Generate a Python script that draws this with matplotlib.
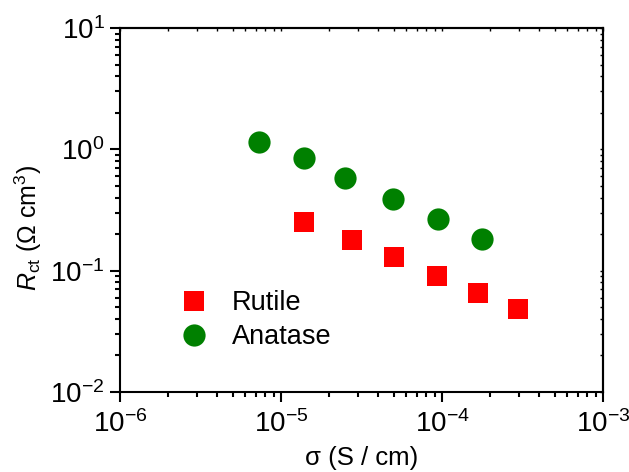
import matplotlib
matplotlib.use("Agg")
import matplotlib.pyplot as plt
from matplotlib.ticker import LogLocator, NullFormatter

plt.rcParams['font.family'] = ['Liberation Sans', 'DejaVu Sans']
plt.rcParams['mathtext.fontset'] = 'custom'
plt.rcParams['mathtext.rm'] = 'Liberation Sans'
plt.rcParams['mathtext.it'] = 'Liberation Sans:italic'
plt.rcParams['mathtext.bf'] = 'Liberation Sans:bold'

rutile_sigma = [1.39e-5, 2.76e-5, 5.0e-5, 9.3e-5, 1.67e-4, 2.96e-4]
rutile_rct = [0.252, 0.179, 0.129, 0.090, 0.0654, 0.0482]
anatase_sigma = [7.3e-6, 1.39e-5, 2.5e-5, 4.97e-5, 9.44e-5, 1.77e-4]
anatase_rct = [1.15, 0.847, 0.58, 0.389, 0.266, 0.182]

fig = plt.figure(figsize=(6.29, 4.72), dpi=100)
ax = fig.add_axes([0.1908, 0.1695, 0.9587 - 0.1908, 0.9407 - 0.1695])

ax.plot(rutile_sigma, rutile_rct, 's', color='#ff0000', ms=14.4, mew=0,
        label='Rutile', linestyle='none')
ax.plot(anatase_sigma, anatase_rct, 'o', color='#008000', ms=16, mew=0,
        label='Anatase', linestyle='none')

ax.set_xscale('log')
ax.set_yscale('log')
ax.set_xlim(1e-6, 1e-3)
ax.set_ylim(1e-2, 10)

ax.xaxis.set_major_locator(LogLocator(base=10, numticks=10))
ax.yaxis.set_major_locator(LogLocator(base=10, numticks=10))
ax.xaxis.set_minor_locator(LogLocator(base=10, subs=range(2, 10), numticks=20))
ax.yaxis.set_minor_locator(LogLocator(base=10, subs=range(2, 10), numticks=20))
ax.xaxis.set_minor_formatter(NullFormatter())
ax.yaxis.set_minor_formatter(NullFormatter())

for s in ax.spines.values():
    s.set_linewidth(1.5)

ax.tick_params(which='major', direction='out', length=7, width=1.5,
               labelsize=20, pad=4)
ax.tick_params(axis='x', which='major', pad=6)
ax.tick_params(which='minor', direction='out', length=3.8, width=1.5)
ax.tick_params(which='both', top=False, right=False)

# small inward ticks on top/right
ax2 = ax.secondary_xaxis('top')
ax2.tick_params(which='both', direction='in', length=2, width=1, labeltop=False)
ax2.xaxis.set_major_locator(LogLocator(base=10, numticks=10))
ax2.xaxis.set_minor_locator(LogLocator(base=10, subs=range(2, 10), numticks=20))
ax2.xaxis.set_major_formatter(NullFormatter())
ax2.xaxis.set_minor_formatter(NullFormatter())
ax2.spines['top'].set_linewidth(1.5)
ay2 = ax.secondary_yaxis('right')
ay2.tick_params(which='both', direction='in', length=2, width=1)
ay2.yaxis.set_major_locator(LogLocator(base=10, numticks=10))
ay2.yaxis.set_minor_locator(LogLocator(base=10, subs=range(2, 10), numticks=20))
ay2.yaxis.set_major_formatter(NullFormatter())
ay2.yaxis.set_minor_formatter(NullFormatter())
ay2.spines['right'].set_linewidth(1.5)

ax.set_xlabel('σ (S / cm)', fontsize=18.5, labelpad=6)
ax.set_ylabel(r'$R_{\mathrm{ct}}$ ($\Omega$ cm$^{3}$)', fontsize=18)
ax.yaxis.set_label_coords(-0.158, 0.45)

ax.legend(loc='lower left', bbox_to_anchor=(0.092, 0.077), frameon=False,
          fontsize=19.5, handletextpad=0.8, labelspacing=0.3, borderpad=0,
          handlelength=1.2)

fig.savefig('out.png', dpi=100)
